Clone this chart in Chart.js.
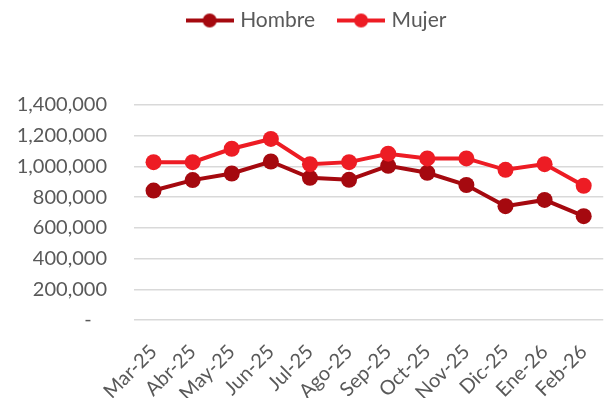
<!DOCTYPE html>
<html>
<head>
<meta charset="utf-8">
<script src="https://cdn.jsdelivr.net/npm/chart.js@4"></script>
<style>
  html, body { margin: 0; padding: 0; background: #fff; }
  #wrap { width: 613px; height: 398px; position: relative; }
</style>
</head>
<body>
<div id="wrap"><canvas id="chart"></canvas></div>
<script>
// Monthly totals by sex
const months = ["Mar-25", "Abr-25", "May-25", "Jun-25", "Jul-25", "Ago-25",
                "Sep-25", "Oct-25", "Nov-25", "Dic-25", "Ene-26", "Feb-26"];
const hombre = [843000, 911000, 954000, 1032000, 926000, 913000,
                1004000, 959000, 879000, 741000, 782000, 676000];
const mujer = [1028000, 1028000, 1115000, 1179000, 1015000, 1028000,
               1083000, 1052000, 1052000, 978000, 1015000, 874000];

const HOMBRE_COLOR = "#a5090f";
const MUJER_COLOR = "#ed1c24";
const TEXT_COLOR = "#595959";

// legend marker: short line with a dot in the middle
function lineMarker(color) {
    const c = document.createElement("canvas");
    c.width = 48;
    c.height = 16;
    const g = c.getContext("2d");
    g.strokeStyle = color;
    g.lineWidth = 4;
    g.beginPath();
    g.moveTo(0, 8);
    g.lineTo(48, 8);
    g.stroke();
    g.fillStyle = color;
    g.beginPath();
    g.arc(24, 8, 7, 0, Math.PI * 2);
    g.fill();
    return c;
}

// extra room between the legend and the plot, legend nudged right a bit
const legendSpacer = {
    id: "legendSpacer",
    beforeInit(chart) {
        const fit = chart.legend.fit;
        chart.legend.fit = function() {
            fit.call(this);
            this.height += 64;
        };
    },
    afterLayout(chart) {
        chart.legend.left += 16;
    }
};

const ctx = document.getElementById("chart").getContext("2d");
new Chart(ctx, {
    type: "line",
    data: {
        labels: months,
        datasets: [{
            label: "Hombre",
            data: hombre,
            borderColor: HOMBRE_COLOR,
            backgroundColor: HOMBRE_COLOR,
            borderWidth: 4,
            pointRadius: 8,
            pointBorderWidth: 0,
            tension: 0,
            order: 1
        }, {
            label: "Mujer",
            data: mujer,
            borderColor: MUJER_COLOR,
            backgroundColor: MUJER_COLOR,
            borderWidth: 4,
            pointRadius: 8,
            pointBorderWidth: 0,
            tension: 0,
            order: 0
        }]
    },
    plugins: [legendSpacer],
    options: {
        responsive: true,
        maintainAspectRatio: false,
        animation: false,
        layout: { padding: { left: 12, right: 5, top: -16, bottom: 0 } },
        elements: { point: { pointStyle: "circle" } },
        plugins: {
            legend: {
                position: "top",
                labels: {
                    color: TEXT_COLOR,
                    font: { family: "Lato", size: 21 },
                    usePointStyle: true,
                    pointStyleWidth: 40,
                    padding: 26,
                    generateLabels: function(chart) {
                        return chart.data.datasets.map((ds, i) => ({
                            text: ds.label,
                            fontColor: TEXT_COLOR,
                            pointStyle: lineMarker(ds.borderColor),
                            lineWidth: 0,
                            strokeStyle: ds.borderColor,
                            fillStyle: ds.borderColor,
                            datasetIndex: i
                        }));
                    }
                }
            },
            tooltip: { enabled: false }
        },
        scales: {
            x: {
                offset: true,
                grid: { display: false },
                border: { display: false },
                afterFit: function(scale) { scale.height = 78; },
                ticks: {
                    color: TEXT_COLOR,
                    font: { family: "Lato", size: 20 },
                    minRotation: 45,
                    maxRotation: 45,
                    padding: 12
                }
            },
            y: {
                min: 0,
                max: 1400000,
                afterFit: function(scale) { scale.width = 122; },
                grid: { color: "#d9d9d9", lineWidth: 1.5, drawTicks: false },
                border: { display: false },
                ticks: {
                    stepSize: 200000,
                    color: TEXT_COLOR,
                    font: { family: "Lato", size: 20 },
                    padding: 27,
                    callback: function(value) {
                        return value === 0 ? "-   " : value.toLocaleString("en-US");
                    }
                }
            }
        }
    }
});
</script>
</body>
</html>
